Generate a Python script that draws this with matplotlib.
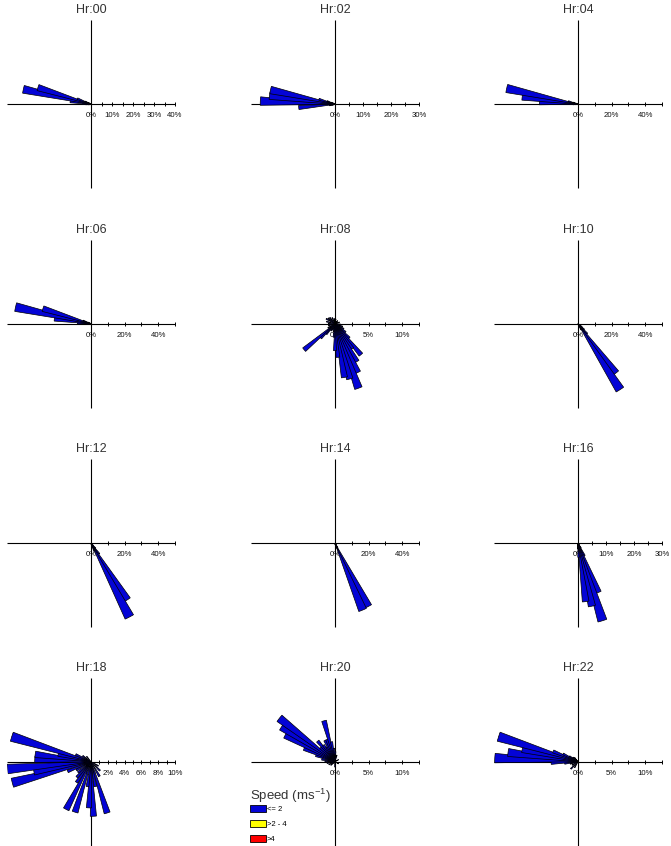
import numpy as np
import matplotlib
matplotlib.use('Agg')
import matplotlib.pyplot as plt
from matplotlib.patches import Patch

plt.rcParams['font.family'] = ['Liberation Sans', 'DejaVu Sans']
plt.rcParams['mathtext.default'] = 'regular'

# ---------------- data (direction in compass degrees, frequency in %) ----------------
hour_labels = ['Hr:00', 'Hr:02', 'Hr:04', 'Hr:06', 'Hr:08', 'Hr:10',
               'Hr:12', 'Hr:14', 'Hr:16', 'Hr:18', 'Hr:20', 'Hr:22']

hr00_dir = [257.5, 262.5, 267.5, 272.5, 277.5, 282.5, 287.5, 292.5, 297.5, 302.5, 307.5]
hr00_pct = [1, 1.5, 2.5, 4, 10, 33, 26.5, 7, 3, 1.5, 1]

hr02_dir = [252.5, 257.5, 265, 272.5, 277.5, 282.5, 287.5, 292.5, 297.5, 302.5]
hr02_pct = [1, 2, 13, 26.7, 23.6, 23.6, 6, 3, 1.5, 1]

hr04_dir = [262.5, 267.5, 272.5, 277.5, 282.5, 287.5, 292.5, 297.5, 302.5]
hr04_pct = [1.5, 3, 23, 33.5, 43.5, 6, 3, 1.5, 1]

hr06_dir = [262.5, 267.5, 272.5, 277.5, 282.5, 287.5, 292.5, 297.5, 302.5]
hr06_pct = [1.5, 3, 8, 22, 46, 30, 5, 2, 1]

hr08_dir = [10, 40, 70, 95, 110, 120, 128, 135, 140, 145, 150, 155, 160, 165, 170,
            175, 180, 185, 190, 200, 210, 220, 225, 230, 240, 255, 270, 285, 300,
            310, 320, 335, 350]
hr08_pct = [0.7, 0.6, 0.7, 0.8, 1.2, 1.5, 2, 3, 6, 4.5, 6.5, 8, 10.2, 8.5, 8.1,
            5, 4, 2, 1.2, 1, 1.2, 2, 3, 6, 1.2, 1, 1, 1.3, 1.5,
            1.3, 1.2, 1, 0.8]

hr10_dir = [117.5, 122.5, 127.5, 132.5, 137.5, 142.5, 147.5, 152.5, 157.5, 162.5]
hr10_pct = [1, 2, 3, 5, 8, 37, 46.5, 4, 2, 1]

hr12_dir = [127.5, 132.5, 137.5, 142.5, 147.5, 152.5, 157.5, 162.5, 167.5]
hr12_pct = [1, 2, 4, 8, 40, 49.5, 5, 2, 1]

hr14_dir = [137.5, 142.5, 147.5, 152.5, 157.5, 162.5, 167.5, 172.5]
hr14_pct = [1, 1.5, 3, 42.5, 43, 3, 1.5, 1]

hr16_dir = [142.5, 147.5, 152.5, 157.5, 162.5, 167.5, 172.5, 177.5, 182.5, 187.5]
hr16_pct = [1, 2, 5, 19, 29, 23, 21, 5, 2, 1]

hr18_dir = [120, 135, 150, 162.5, 170, 177.5, 182.5, 188, 197.5, 207.5, 215,
            222.5, 230, 240, 247.5, 255, 260, 265, 272.5, 277.5, 282.5, 287.5,
            295, 305, 320]
hr18_pct = [1, 1.5, 2, 6.4, 3, 6.5, 5.5, 3, 6.3, 6.4, 3,
            2.5, 2, 2, 3, 9.7, 6.9, 10, 6.7, 6.7, 4, 9.9,
            2, 1.2, 0.8]

hr20_dir = [2, 15, 60, 120, 180, 230, 245, 260, 272.5, 280, 288, 293, 298, 303,
            308, 314, 320, 325, 330, 335, 340, 345, 350, 355]
hr20_pct = [1.5, 1, 0.6, 0.6, 0.8, 0.8, 1, 1.2, 1.5, 2, 3, 5, 8.4, 9.5,
            10.5, 3, 4, 3, 2.5, 3.5, 3.5, 6.3, 3, 2]

hr22_dir = [210, 225, 240, 255, 262.5, 267.5, 272.5, 277.5, 282.5, 287.5,
            292.5, 297.5, 302.5, 310, 320]
hr22_pct = [1, 1.5, 1, 1.2, 2, 4, 12.4, 10.5, 8.5, 12.4,
            4, 2.5, 1.5, 1, 0.8]

panel_dirs = [hr00_dir, hr02_dir, hr04_dir, hr06_dir, hr08_dir, hr10_dir,
              hr12_dir, hr14_dir, hr16_dir, hr18_dir, hr20_dir, hr22_dir]
panel_pcts = [hr00_pct, hr02_pct, hr04_pct, hr06_pct, hr08_pct, hr10_pct,
              hr12_pct, hr14_pct, hr16_pct, hr18_pct, hr20_pct, hr22_pct]

panel_max = [40, 30, 50, 50, 12.5, 50, 50, 50, 30, 10, 12.5, 12.5]
panel_label_step = [10, 10, 20, 20, 5, 20, 20, 20, 10, 2, 5, 5]

speed_labels = ['<= 2', '>2 - 4', '>4']
speed_colors = ['#0404d6', '#ffff00', '#ff0000']
bar_width_deg = 6.5

# ---------------- layout ----------------
W, H = 671, 846
fig = plt.figure(figsize=(W / 100, H / 100), dpi=100)
R = 84.0
col_x = [91, 335, 578]
row_y = [104.3, 323.8, 543.3, 761.7]

for i, (lab, dirs, pcts, rmax, step) in enumerate(
        zip(hour_labels, panel_dirs, panel_pcts, panel_max, panel_label_step)):
    cx = col_x[i % 3]
    cy = row_y[i // 3]
    rect = [(cx - R) / W, (H - cy - R) / H, 2 * R / W, 2 * R / H]
    ax = fig.add_axes(rect, projection='polar')
    ax.set_theta_zero_location('N')
    ax.set_theta_direction(-1)
    ax.set_ylim(0, rmax)
    ax.set_axis_off()

    # cross axes
    for th in [0, 90, 180, 270]:
        t = np.deg2rad(th)
        ax.plot([t, t], [0, rmax], color='black', lw=0.8, zorder=1.5,
                clip_on=False, solid_capstyle='butt')
    # ticks on positive x axis
    ticks = np.arange(step / 2, rmax + 1e-9, step / 2)
    ax.plot(np.full(len(ticks), np.pi / 2), ticks, ls='none', marker='|',
            ms=3, mew=0.7, color='black', clip_on=False, zorder=1.5)
    # tick labels
    labels = np.arange(0, rmax + 1e-9, step)
    for v in labels:
        ax.annotate(f"{v:g}%", xy=(np.pi / 2, v), xycoords='data',
                    xytext=(0, -11.5), textcoords='offset pixels',
                    ha='center', va='center', fontsize=5.6, color='#111111',
                    annotation_clip=False, zorder=1)

    # bars
    ax.bar(np.deg2rad(dirs), pcts, width=np.deg2rad(bar_width_deg), bottom=0,
           color=speed_colors[0], edgecolor='black', linewidth=0.5,
           align='center', zorder=2)

    # title
    ax.annotate(lab, xy=(0.5, 1.0), xycoords='axes fraction',
                xytext=(0, 4), textcoords='offset pixels',
                ha='center', va='bottom', fontsize=9, color='#333333')

# legend
fig.text(250 / W, 1 - 796 / H, 'Speed (ms$^{-1}$)', fontsize=9.5,
         color='#333333', ha='left', va='center')
handles = [Patch(facecolor=c, edgecolor='black', linewidth=0.6) for c in speed_colors]
leg = fig.legend(handles, speed_labels, loc='upper left',
                 bbox_to_anchor=(250 / W, 1 - 805 / H),
                 fontsize=5.5, frameon=False, handlelength=2.1, handleheight=1.05,
                 labelspacing=0.9, handletextpad=0.1, borderpad=0,
                 borderaxespad=0)

fig.savefig('out.png', dpi=100)
